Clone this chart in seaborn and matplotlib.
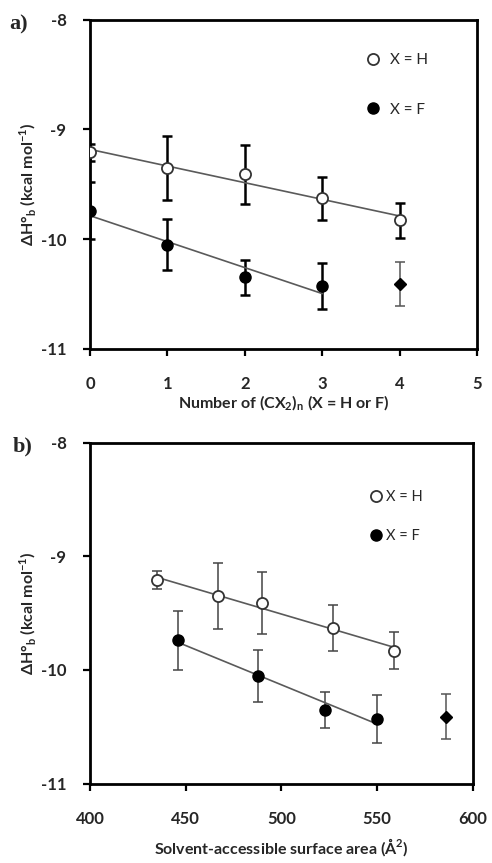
import numpy as np
import pandas as pd
import seaborn as sns
import matplotlib.pyplot as plt
from matplotlib.lines import Line2D

# panel a: number of CX2 units
n_h = [0, 1, 2, 3, 4]
dh_h = [-9.21, -9.35, -9.41, -9.63, -9.83]
err_h = [0.08, 0.29, 0.27, 0.20, 0.16]

n_f = [0, 1, 2, 3]
dh_f = [-9.74, -10.05, -10.35, -10.43]
err_f = [0.26, 0.23, 0.16, 0.21]

n_extra = [4]
dh_extra = [-10.41]
err_extra = [0.20]

# panel b: solvent-accessible surface area
sasa_h = [435, 467, 490, 527, 559]
sasa_f = [446, 488, 523, 550]
sasa_extra = [586]

sns.set_style("white")
plt.rcParams['font.family'] = ['Lato', 'DejaVu Sans']
plt.rcParams['mathtext.fontset'] = 'custom'
plt.rcParams['mathtext.rm'] = 'Lato'
plt.rcParams['mathtext.bf'] = 'Lato:bold'

fig = plt.figure(figsize=(4.92, 8.63), dpi=100)
ax_a = fig.add_axes([0.183, 0.596, 0.787, 0.381])
ax_b = fig.add_axes([0.183, 0.092, 0.778, 0.395])

line_kws = dict(color='#5a5a5a', lw=1.2)


def draw_panel(ax, xh, xf, xe, bold_err):
    elw = 1.8 if bold_err else 1.1
    ecol = 'black' if bold_err else '#444444'
    ax.errorbar(xh, dh_h, yerr=err_h, fmt='none', ecolor=ecol, elinewidth=elw,
                capsize=3.5, capthick=elw, zorder=2)
    ax.errorbar(xf, dh_f, yerr=err_f, fmt='none', ecolor=ecol, elinewidth=elw,
                capsize=3.5, capthick=elw, zorder=2)
    ax.errorbar(xe, dh_extra, yerr=err_extra, fmt='none', ecolor='#555555',
                elinewidth=1.1, capsize=3.5, capthick=1.1, zorder=2)
    sns.regplot(x=np.array(xh, float), y=np.array(dh_h), ax=ax, scatter=False,
                ci=None, truncate=True, line_kws=line_kws)
    sns.regplot(x=np.array(xf, float), y=np.array(dh_f), ax=ax, scatter=False,
                ci=None, truncate=True, line_kws=line_kws)
    ax.plot(xh, dh_h, 'o', ms=8, mfc='white', mec='#333333', mew=1.3, zorder=4)
    ax.plot(xf, dh_f, 'o', ms=8, mfc='black', mec='black', zorder=4)
    ax.plot(xe, dh_extra, 'D', ms=6, mfc='black', mec='black', zorder=4)
    ax.set_ylim(-11, -8)
    ax.set_yticks([-11, -10, -9, -8])
    ax.set_yticklabels(['-11', '-10', '-9', '-8'])
    for s in ax.spines.values():
        s.set_linewidth(2)
        s.set_color('black')
    ax.tick_params(axis='both', direction='out', length=5, width=1.6,
                   labelsize=12, color='black', bottom=True, left=True)
    ax.tick_params(axis='x', pad=15)
    ax.tick_params(axis='y', pad=12)
    for lab in ax.get_xticklabels() + ax.get_yticklabels():
        lab.set_fontweight('bold')
    ax.set_ylabel('ΔH°$_\\mathbf{b}$ (kcal mol$^\\mathbf{-1}$)',
                  fontsize=11.5, fontweight='bold', labelpad=2)


draw_panel(ax_a, n_h, n_f, n_extra, True)
ax_a.set_xlim(0, 5)
ax_a.set_xticks([0, 1, 2, 3, 4, 5])
for lab in ax_a.get_xticklabels():
    lab.set_fontweight('bold')
ax_a.set_xlabel('Number of (CX$_\\mathbf{2}$)$_\\mathbf{n}$ (X = H or F)',
                fontsize=11.5, fontweight='bold', labelpad=1)
h_a = [Line2D([], [], ls='none', marker='o', ms=8, mfc='white', mec='#333333', mew=1.3),
       Line2D([], [], ls='none', marker='o', ms=8, mfc='black', mec='black')]
ax_a.legend(h_a, ['X = H', 'X = F'], loc='center left', bbox_to_anchor=(0.712, 0.802),
            frameon=False, handlelength=1, handletextpad=0.6, labelspacing=2.3,
            borderpad=0, borderaxespad=0, fontsize=11)

draw_panel(ax_b, sasa_h, sasa_f, sasa_extra, False)
ax_b.set_xlim(400, 600)
ax_b.set_xticks([400, 450, 500, 550, 600])
for lab in ax_b.get_xticklabels():
    lab.set_fontweight('bold')
ax_b.set_xlabel('Solvent-accessible surface area (Å$^\\mathbf{2}$)',
                fontsize=11.5, fontweight='bold', labelpad=6)
h_b = [Line2D([], [], ls='none', marker='o', ms=8, mfc='white', mec='#333333', mew=1.3),
       Line2D([], [], ls='none', marker='o', ms=8, mfc='black', mec='black')]
ax_b.legend(h_b, ['X = H', 'X = F'], loc='center left', bbox_to_anchor=(0.728, 0.783),
            frameon=False, handlelength=1, handletextpad=0.2, labelspacing=1.7,
            borderpad=0, borderaxespad=0, fontsize=10.5)

fig.text(0.018, 0.983, 'a)', fontsize=16, fontweight='bold', family='Liberation Serif',
         va='top')
fig.text(0.026, 0.494, 'b)', fontsize=16, fontweight='bold', family='Liberation Serif',
         va='top')

fig.savefig('out.png', dpi=100)
